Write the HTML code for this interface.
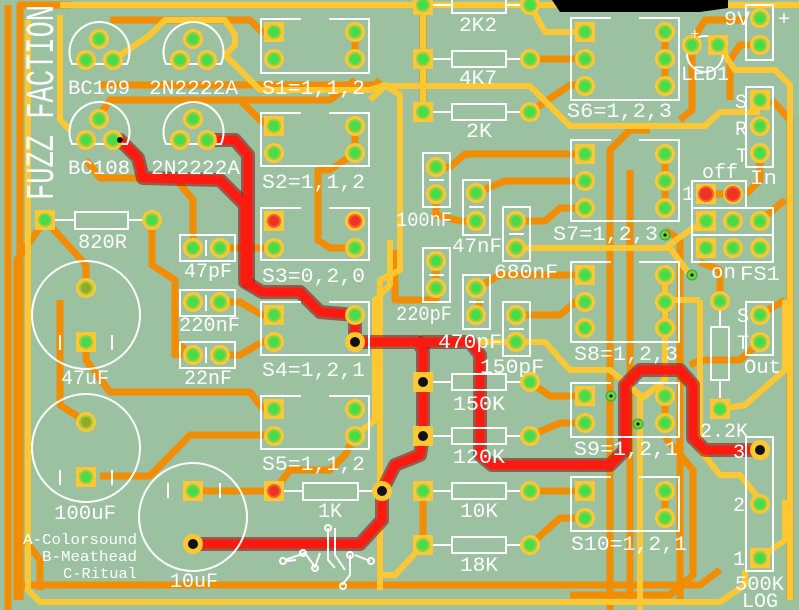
<!DOCTYPE html>
<html><head><meta charset="utf-8"><style>
html,body{margin:0;padding:0;background:#9bc1a0;}
svg{display:block}
text{font-family:"Liberation Mono","DejaVu Sans Mono",monospace;fill:#fff;}
</style></head><body>
<svg width="799" height="610" viewBox="0 0 799 610" xmlns="http://www.w3.org/2000/svg">
<rect width="799" height="610" fill="#9bc1a0"/>
<!-- orange traces -->
<g fill="none" stroke="#f28c00" stroke-width="7" stroke-linejoin="round">
<path d="M8,610 V5"/>
<path d="M17,600 V260 L45,220"/>
<path d="M70,5 H20 V600"/>
<path d="M20,585 H700 L720,570"/>
<path d="M110,20 H250 L262,32 H275"/>
<path d="M100,85 L375,85 L380,80"/>
<path d="M100,115 L110,100 H240 L262,122 H275"/>
<path d="M240,100 L262,100 L330,100 L355,80"/>
<path d="M86,160 L100,178 H175 L193,200 V248"/>
<path d="M45,220 L86,265 V290"/>
<path d="M152,220 V265 L175,280 V340 L190,355"/>
<path d="M86,342 V360 L110,392 H250 L262,408 H275"/>
<path d="M86,422 L60,405 V300"/>
<path d="M193,491 H274 L290,470 H330 L345,455 L355,436"/>
<path d="M100,476 H150 L190,435 H275"/>
<path d="M220,248 H275"/>
<path d="M220,302 H240 L262,315 H275"/>
<path d="M220,355 H240 L262,342 H275"/>
<path d="M193,355 H175 V340"/>
<path d="M355,153 L330,170 H318 V240 L330,248 H355"/>
<path d="M355,59 V32"/><path d="M355,153 V126"/>
<path d="M530,59 H585"/>
<path d="M530,112 L570,85 H585"/>
<path d="M423,112 V5"/>
<path d="M585,154 H465 L450,167 H436"/>
<path d="M476,193 L505,181 H585"/>
<path d="M516,221 H545 L560,208 H585"/>
<path d="M436,194 V215 L460,221 H476"/>
<path d="M436,261 V300 L395,300 V250"/>
<path d="M436,288 V300"/>
<path d="M476,288 L500,275 H585"/>
<path d="M476,315 L480,300"/>
<path d="M516,315 H560 L575,302 H585"/>
<path d="M530,382 L550,396 H585"/>
<path d="M530,436 L560,423 H585"/>
<path d="M530,491 H585"/>
<path d="M530,545 L560,518 H585"/>
<path d="M423,491 V545"/>
<path d="M665,32 V86"/><path d="M665,154 V208"/><path d="M665,275 V330"/><path d="M665,396 V423"/><path d="M665,491 V518"/>
<path d="M610,610 V150 L630,130 H650"/>
<path d="M630,600 V170"/>
<path d="M665,230 L680,240 V600"/>
<path d="M690,45 L705,20 H745"/>
<path d="M692,45 V110 L680,120"/>
<path d="M760,45 H740 L730,60 V100"/>
<path d="M772,100 L790,120 V600"/>
<path d="M733,194 H706"/>
<path d="M760,221 L785,200"/>
<path d="M760,153 V180 L746,194"/>
<path d="M760,342 L740,360 H700 L690,365"/>
<path d="M760,315 L785,300"/>
<path d="M665,437 L693,470 V575 L670,595 H570"/>
<path d="M720,301 V270 L700,262"/>
<path d="M25,540 L40,560 V590"/>
</g>
<!-- yellow traces -->
<g fill="none" stroke="#ffc832" stroke-width="6" stroke-linejoin="round">
<path d="M60,5 H799"/>
<path d="M28,20 V590 L40,602 H720 L745,585 V570"/>
<path d="M60,15 V120 L70,130"/>
<path d="M113,60 L150,35 L165,20 H225 L235,35 V45 L225,55 L260,90 H370 L385,85 L400,95 V270 L380,280 V590"/>
<path d="M370,100 L385,86 H530 L570,126 H705 L720,112 H760"/>
<path d="M423,5 V112"/>
<path d="M530,5 L545,32 H585"/>
<path d="M718,45 L735,70 H775 L790,85 V600"/>
<path d="M516,248 H670 L690,275"/>
<path d="M665,248 L690,230 L705,221"/>
<path d="M476,342 H545 L570,370 H610 L640,395 V460 L640,610"/>
<path d="M423,545 L395,575 H380"/>
<path d="M720,409 L745,405 L785,370 V300"/>
<path d="M700,300 V450 L720,475 H740 L760,500"/>
<path d="M760,558 L785,540 V500"/>
<path d="M665,275 V380 L640,400"/>
<path d="M660,300 L700,300"/>
<path d="M355,436 L375,420 V300 L390,285 V240"/>
</g>
<!-- red trace -->
<g fill="none" stroke-linejoin="round" stroke-linecap="round">
<path id="r1" d="M120,140 L138,158 L143,178 L220,180 L245,205 V282 L262,292 H300 L320,312 L355,315 V342 H418 L423,350 V436 L420,455 L395,465 L382,491 V520 L360,544 H193"/>
<path id="r2" d="M215,140 H235 L248,155 V282"/>
<path id="r3" d="M423,342 H470 L480,355 V455 L492,465 H610 L625,450 V385 L640,370 H680 L693,385 V438 L705,450 H760"/>
<use href="#r1" stroke="#8b1a1a" stroke-width="14" opacity="0.6"/>
<use href="#r2" stroke="#8b1a1a" stroke-width="14" opacity="0.6"/>
<use href="#r3" stroke="#8b1a1a" stroke-width="14" opacity="0.6"/>
<use href="#r1" stroke="#ff1a10" stroke-width="9"/>
<use href="#r2" stroke="#ff1a10" stroke-width="9"/>
<use href="#r3" stroke="#ff1a10" stroke-width="9"/>
</g>
<!-- silkscreen -->
<g fill="none" stroke="#fff" stroke-width="2">
<path d="M301,19 H261 V73 H369 V19 H329"/>
<path d="M301,113 H261 V166 H369 V113 H329"/>
<path d="M301,208 H261 V260 H369 V208 H329"/>
<path d="M301,302 H261 V355 H369 V302 H329"/>
<path d="M301,396 H261 V449 H369 V396 H329"/>
<path d="M611,18 H571 V100 H679 V18 H639"/>
<path d="M611,140 H571 V221 H679 V140 H639"/>
<path d="M611,262 H571 V342 H679 V262 H639"/>
<path d="M611,383 H571 V437 H679 V383 H639"/>
<path d="M611,477 H571 V531 H679 V477 H639"/>
<path d="M72,64 A30,30 0 1 1 127,64 Z"/>
<path d="M166,64 A30,30 0 1 1 221,64 Z"/>
<path d="M72,144 A30,30 0 1 1 127,144 Z"/>
<path d="M166,144 A30,30 0 1 1 221,144 Z"/>
<rect x="75" y="212" width="53" height="17"/><path d="M55,220 H75 M128,220 H145"/>
<rect x="303" y="483" width="55" height="17"/><path d="M284,491 H303 M358,491 H375"/>
<rect x="452" y="-3" width="54" height="16"/><path d="M433,5 H452 M506,5 H520"/>
<rect x="452" y="51" width="54" height="16"/><path d="M433,59 H452 M506,59 H520"/>
<rect x="452" y="104" width="54" height="16"/><path d="M433,112 H452 M506,112 H520"/>
<rect x="452" y="374" width="54" height="16"/><path d="M433,382 H452 M506,382 H520"/>
<rect x="452" y="428" width="54" height="16"/><path d="M433,436 H452 M506,436 H520"/>
<rect x="452" y="483" width="54" height="16"/><path d="M433,491 H452 M506,491 H520"/>
<rect x="452" y="537" width="54" height="16"/><path d="M433,545 H452 M506,545 H520"/>
<rect x="711" y="327" width="18" height="53"/><path d="M720,310 V327 M720,380 V398"/>
<rect x="180" y="235" width="55" height="26"/><path d="M206,240 V256"/>
<rect x="180" y="290" width="55" height="26"/><path d="M206,295 V311"/>
<rect x="180" y="342" width="55" height="26"/><path d="M206,347 V363"/>
<rect x="423" y="153" width="27" height="54"/><path d="M429,180 H444"/>
<rect x="463" y="180" width="27" height="55"/><path d="M469,207 H484"/>
<rect x="503" y="207" width="27" height="54"/><path d="M509,234 H524"/>
<rect x="423" y="248" width="27" height="54"/><path d="M429,275 H444"/>
<rect x="463" y="275" width="27" height="54"/><path d="M469,302 H484"/>
<rect x="503" y="302" width="27" height="54"/><path d="M509,329 H524"/>
<circle cx="86" cy="315" r="54"/><path d="M60,335 V350 M112,335 V350"/>
<circle cx="86" cy="448" r="54"/><path d="M60,470 V485 M112,470 V485"/>
<circle cx="193" cy="517" r="54"/><path d="M168,483 V498 M220,483 V498"/>
<circle cx="705" cy="54" r="18"/>
<rect x="746" y="5" width="27" height="55"/>
<rect x="746" y="87" width="27" height="80"/>
<rect x="692" y="181" width="54" height="27"/>
<rect x="692" y="208" width="81" height="27"/>
<rect x="692" y="235" width="81" height="27"/>
<rect x="746" y="302" width="27" height="53"/>
<rect x="746" y="437" width="27" height="134"/>
<path d="M328,528 V560 L335,568 M335,528 V555 L345,570 M350,555 V575 L342,585 M285,560 L305,553 L315,567 L320,553 M355,555 L370,561 M296,560 L287,561"/>
<circle cx="328" cy="528" r="3"/><circle cx="343" cy="586" r="3"/><circle cx="303" cy="553" r="3"/><circle cx="315" cy="568" r="3"/><circle cx="350" cy="555" r="3"/><circle cx="371" cy="561" r="3"/><circle cx="283" cy="561" r="3"/>
</g>
<path d="M552,0 H728 V8 L700,12 H560 Z" fill="#000"/>
<g>
<g fill="#ffc832">
<rect x="264" y="22" width="20" height="20"/><rect x="264" y="116" width="20" height="20"/><rect x="264" y="211" width="20" height="20"/><rect x="264" y="305" width="20" height="20"/><rect x="264" y="399" width="20" height="20"/>
<rect x="575" y="22" width="20" height="20"/><rect x="575" y="144" width="20" height="20"/><rect x="575" y="265" width="20" height="20"/><rect x="575" y="386" width="20" height="20"/><rect x="575" y="481" width="20" height="20"/>
<rect x="35" y="210" width="20" height="20"/><rect x="264" y="481" width="20" height="20"/>
<rect x="76" y="332" width="20" height="20"/><rect x="76" y="467" width="20" height="20"/><rect x="183" y="481" width="20" height="20"/>
<rect x="413" y="-5" width="20" height="20"/><rect x="413" y="49" width="20" height="20"/><rect x="413" y="102" width="20" height="20"/>
<rect x="413" y="372" width="20" height="20"/><rect x="413" y="426" width="20" height="20"/><rect x="413" y="481" width="20" height="20"/><rect x="413" y="535" width="20" height="20"/>
<rect x="708" y="35" width="20" height="20"/><rect x="696" y="184" width="20" height="20"/><rect x="696" y="211" width="20" height="20"/><rect x="696" y="238" width="20" height="20"/><rect x="750" y="90" width="20" height="20"/><rect x="710" y="399" width="20" height="20"/><rect x="750" y="548" width="20" height="20"/>
</g>
<g fill="#ffc832">
<circle cx="355" cy="32" r="10"/><circle cx="274" cy="59" r="10"/><circle cx="355" cy="59" r="10"/>
<circle cx="355" cy="126" r="10"/><circle cx="274" cy="153" r="10"/><circle cx="355" cy="153" r="10"/>
<circle cx="355" cy="221" r="10"/><circle cx="274" cy="248" r="10"/><circle cx="355" cy="248" r="10"/>
<circle cx="355" cy="315" r="10"/><circle cx="274" cy="342" r="10"/><circle cx="355" cy="342" r="10"/>
<circle cx="355" cy="409" r="10"/><circle cx="274" cy="436" r="10"/><circle cx="355" cy="436" r="10"/>
<circle cx="665" cy="32" r="10"/><circle cx="585" cy="59" r="10"/><circle cx="665" cy="59" r="10"/><circle cx="585" cy="86" r="10"/><circle cx="665" cy="86" r="10"/>
<circle cx="665" cy="154" r="10"/><circle cx="585" cy="181" r="10"/><circle cx="665" cy="181" r="10"/><circle cx="585" cy="208" r="10"/><circle cx="665" cy="208" r="10"/>
<circle cx="665" cy="275" r="10"/><circle cx="585" cy="302" r="10"/><circle cx="665" cy="302" r="10"/><circle cx="585" cy="328" r="10"/><circle cx="665" cy="328" r="10"/>
<circle cx="665" cy="396" r="10"/><circle cx="585" cy="423" r="10"/><circle cx="665" cy="423" r="10"/>
<circle cx="665" cy="491" r="10"/><circle cx="585" cy="518" r="10"/><circle cx="665" cy="518" r="10"/>
<circle cx="99" cy="39" r="10"/><circle cx="86" cy="60" r="10"/><circle cx="113" cy="60" r="10"/>
<circle cx="193" cy="39" r="10"/><circle cx="180" cy="60" r="10"/><circle cx="207" cy="60" r="10"/>
<circle cx="99" cy="119" r="10"/><circle cx="86" cy="140" r="10"/><circle cx="113" cy="140" r="10"/>
<circle cx="193" cy="119" r="10"/><circle cx="180" cy="140" r="10"/><circle cx="207" cy="140" r="10"/>
<circle cx="152" cy="220" r="10"/><circle cx="382" cy="491" r="10"/>
<circle cx="193" cy="248" r="10"/><circle cx="220" cy="248" r="10"/><circle cx="193" cy="302" r="10"/><circle cx="220" cy="302" r="10"/><circle cx="193" cy="355" r="10"/><circle cx="220" cy="355" r="10"/>
<circle cx="86" cy="288" r="10"/><circle cx="86" cy="422" r="10"/><circle cx="193" cy="544" r="10"/>
<circle cx="530" cy="5" r="10"/><circle cx="530" cy="59" r="10"/><circle cx="530" cy="112" r="10"/><circle cx="530" cy="382" r="10"/><circle cx="530" cy="436" r="10"/><circle cx="530" cy="491" r="10"/><circle cx="530" cy="545" r="10"/>
<circle cx="436" cy="167" r="10"/><circle cx="436" cy="194" r="10"/><circle cx="476" cy="193" r="10"/><circle cx="476" cy="221" r="10"/><circle cx="516" cy="221" r="10"/><circle cx="516" cy="248" r="10"/>
<circle cx="436" cy="261" r="10"/><circle cx="436" cy="288" r="10"/><circle cx="476" cy="288" r="10"/><circle cx="476" cy="315" r="10"/><circle cx="516" cy="315" r="10"/><circle cx="516" cy="342" r="10"/>
<circle cx="692" cy="45" r="10"/><circle cx="760" cy="18" r="10"/><circle cx="760" cy="45" r="10"/><circle cx="760" cy="126" r="10"/><circle cx="760" cy="153" r="10"/>
<circle cx="733" cy="194" r="10"/><circle cx="733" cy="221" r="10"/><circle cx="760" cy="221" r="10"/><circle cx="733" cy="248" r="10"/><circle cx="760" cy="248" r="10"/>
<circle cx="760" cy="315" r="10"/><circle cx="760" cy="342" r="10"/><circle cx="720" cy="301" r="10"/><circle cx="760" cy="450" r="10"/><circle cx="760" cy="504" r="10"/>
</g>
<g fill="#46dd46" stroke="#8fd04a" stroke-width="2">
<circle cx="274" cy="32" r="6"/><circle cx="355" cy="32" r="6"/><circle cx="274" cy="59" r="6"/><circle cx="355" cy="59" r="6"/>
<circle cx="274" cy="126" r="6"/><circle cx="355" cy="126" r="6"/><circle cx="274" cy="153" r="6"/><circle cx="355" cy="153" r="6"/>
<circle cx="274" cy="248" r="6"/><circle cx="355" cy="248" r="6"/>
<circle cx="274" cy="315" r="6"/><circle cx="355" cy="315" r="6"/><circle cx="274" cy="342" r="6"/>
<circle cx="274" cy="409" r="6"/><circle cx="355" cy="409" r="6"/><circle cx="274" cy="436" r="6"/><circle cx="355" cy="436" r="6"/>
<circle cx="585" cy="32" r="6"/><circle cx="665" cy="32" r="6"/><circle cx="585" cy="59" r="6"/><circle cx="665" cy="59" r="6"/><circle cx="585" cy="86" r="6"/><circle cx="665" cy="86" r="6"/>
<circle cx="585" cy="154" r="6"/><circle cx="665" cy="154" r="6"/><circle cx="585" cy="181" r="6"/><circle cx="665" cy="181" r="6"/><circle cx="585" cy="208" r="6"/><circle cx="665" cy="208" r="6"/>
<circle cx="585" cy="275" r="6"/><circle cx="665" cy="275" r="6"/><circle cx="585" cy="302" r="6"/><circle cx="665" cy="302" r="6"/><circle cx="585" cy="328" r="6"/><circle cx="665" cy="328" r="6"/>
<circle cx="585" cy="396" r="6"/><circle cx="665" cy="396" r="6"/><circle cx="585" cy="423" r="6"/><circle cx="665" cy="423" r="6"/>
<circle cx="585" cy="491" r="6"/><circle cx="665" cy="491" r="6"/><circle cx="585" cy="518" r="6"/><circle cx="665" cy="518" r="6"/>
<circle cx="99" cy="39" r="6"/><circle cx="86" cy="60" r="6"/><circle cx="113" cy="60" r="6"/>
<circle cx="193" cy="39" r="6"/><circle cx="180" cy="60" r="6"/><circle cx="207" cy="60" r="6"/>
<circle cx="99" cy="119" r="6"/><circle cx="86" cy="140" r="6"/><circle cx="113" cy="140" r="6"/>
<circle cx="193" cy="119" r="6"/><circle cx="180" cy="140" r="6"/><circle cx="207" cy="140" r="6"/>
<circle cx="45" cy="220" r="6"/><circle cx="152" cy="220" r="6"/>
<circle cx="193" cy="248" r="6"/><circle cx="220" cy="248" r="6"/><circle cx="193" cy="302" r="6"/><circle cx="220" cy="302" r="6"/><circle cx="193" cy="355" r="6"/><circle cx="220" cy="355" r="6"/>
<circle cx="86" cy="342" r="6"/><circle cx="86" cy="477" r="6"/><circle cx="193" cy="491" r="6"/>
<circle cx="423" cy="5" r="6"/><circle cx="530" cy="5" r="6"/><circle cx="423" cy="59" r="6"/><circle cx="530" cy="59" r="6"/><circle cx="423" cy="112" r="6"/><circle cx="530" cy="112" r="6"/>
<circle cx="530" cy="382" r="6"/><circle cx="530" cy="436" r="6"/><circle cx="423" cy="491" r="6"/><circle cx="530" cy="491" r="6"/><circle cx="423" cy="545" r="6"/><circle cx="530" cy="545" r="6"/>
<circle cx="436" cy="167" r="6"/><circle cx="436" cy="194" r="6"/><circle cx="476" cy="193" r="6"/><circle cx="476" cy="221" r="6"/><circle cx="516" cy="221" r="6"/><circle cx="516" cy="248" r="6"/>
<circle cx="436" cy="261" r="6"/><circle cx="436" cy="288" r="6"/><circle cx="476" cy="288" r="6"/><circle cx="476" cy="315" r="6"/><circle cx="516" cy="315" r="6"/><circle cx="516" cy="342" r="6"/>
<circle cx="692" cy="45" r="6"/><circle cx="718" cy="45" r="6"/><circle cx="760" cy="18" r="6"/><circle cx="760" cy="45" r="6"/><circle cx="760" cy="100" r="6"/><circle cx="760" cy="126" r="6"/><circle cx="760" cy="153" r="6"/>
<circle cx="706" cy="221" r="6"/><circle cx="733" cy="221" r="6"/><circle cx="760" cy="221" r="6"/><circle cx="706" cy="248" r="6"/><circle cx="733" cy="248" r="6"/><circle cx="760" cy="248" r="6"/>
<circle cx="760" cy="315" r="6"/><circle cx="760" cy="342" r="6"/><circle cx="720" cy="301" r="6"/><circle cx="720" cy="409" r="6"/><circle cx="760" cy="504" r="6"/><circle cx="760" cy="558" r="6"/>
</g>
<g fill="#9aa820" stroke="#8fd04a" stroke-width="2">
<circle cx="86" cy="288" r="6"/><circle cx="86" cy="422" r="6"/>
</g>
<g fill="#ee3322" stroke="#f06030" stroke-width="2">
<circle cx="274" cy="221" r="6"/><circle cx="355" cy="221" r="6"/><circle cx="706" cy="194" r="7"/><circle cx="733" cy="194" r="7"/><circle cx="274" cy="491" r="6"/>
</g>
<g fill="#111">
<circle cx="355" cy="342" r="5"/><circle cx="423" cy="382" r="5"/><circle cx="423" cy="436" r="5"/><circle cx="382" cy="491" r="5"/><circle cx="193" cy="544" r="5"/><circle cx="760" cy="450" r="5"/><circle cx="120" cy="140" r="3"/>
</g>
<g fill="#6fd040" stroke="#3a3" stroke-width="1"><circle cx="665" cy="235" r="5"/><circle cx="692" cy="275" r="5"/><circle cx="611" cy="396" r="5"/><circle cx="638" cy="424" r="5"/></g>
<g fill="#000"><circle cx="665" cy="235" r="1.5"/><circle cx="692" cy="275" r="1.5"/><circle cx="611" cy="396" r="1.5"/><circle cx="638" cy="424" r="1.5"/></g>
</g>
<g font-size="20">
<text x="262" y="94" textLength="103" lengthAdjust="spacingAndGlyphs">S1=1,1,2</text>
<text x="262" y="188" textLength="103" lengthAdjust="spacingAndGlyphs">S2=1,1,2</text>
<text x="262" y="282" textLength="103" lengthAdjust="spacingAndGlyphs">S3=0,2,0</text>
<text x="262" y="376" textLength="103" lengthAdjust="spacingAndGlyphs">S4=1,2,1</text>
<text x="262" y="470" textLength="103" lengthAdjust="spacingAndGlyphs">S5=1,1,2</text>
<text x="567" y="117" textLength="105" lengthAdjust="spacingAndGlyphs">S6=1,2,3</text>
<text x="553" y="240" textLength="105" lengthAdjust="spacingAndGlyphs">S7=1,2,3</text>
<text x="574" y="360" textLength="104" lengthAdjust="spacingAndGlyphs">S8=1,2,3</text>
<text x="574" y="455" textLength="104" lengthAdjust="spacingAndGlyphs">S9=1,2,1</text>
<text x="571" y="550" textLength="116" lengthAdjust="spacingAndGlyphs">S10=1,2,1</text>
<text x="68" y="94" textLength="62" lengthAdjust="spacingAndGlyphs">BC109</text>
<text x="149" y="94" textLength="89" lengthAdjust="spacingAndGlyphs">2N2222A</text>
<text x="68" y="174" textLength="62" lengthAdjust="spacingAndGlyphs">BC108</text>
<text x="151" y="174" textLength="89" lengthAdjust="spacingAndGlyphs">2N2222A</text>
<text x="78" y="248" textLength="49" lengthAdjust="spacingAndGlyphs">820R</text>
<text x="184" y="277" textLength="48" lengthAdjust="spacingAndGlyphs">47pF</text>
<text x="179" y="331" textLength="61" lengthAdjust="spacingAndGlyphs">220nF</text>
<text x="184" y="384" textLength="48" lengthAdjust="spacingAndGlyphs">22nF</text>
<text x="61" y="384" textLength="48" lengthAdjust="spacingAndGlyphs">47uF</text>
<text x="54" y="519" textLength="62" lengthAdjust="spacingAndGlyphs">100uF</text>
<text x="170" y="587" textLength="48" lengthAdjust="spacingAndGlyphs">10uF</text>
<text x="318" y="517" textLength="24" lengthAdjust="spacingAndGlyphs">1K</text>
<text x="459" y="31" textLength="38" lengthAdjust="spacingAndGlyphs">2K2</text>
<text x="459" y="84" textLength="38" lengthAdjust="spacingAndGlyphs">4K7</text>
<text x="466" y="137" textLength="26" lengthAdjust="spacingAndGlyphs">2K</text>
<text x="453" y="410" textLength="52" lengthAdjust="spacingAndGlyphs">150K</text>
<text x="453" y="463" textLength="52" lengthAdjust="spacingAndGlyphs">120K</text>
<text x="460" y="517" textLength="38" lengthAdjust="spacingAndGlyphs">10K</text>
<text x="460" y="571" textLength="38" lengthAdjust="spacingAndGlyphs">18K</text>
<text x="396" y="226" textLength="56" lengthAdjust="spacingAndGlyphs">100nF</text>
<text x="452" y="252" textLength="50" lengthAdjust="spacingAndGlyphs">47nF</text>
<text x="494" y="278" textLength="64" lengthAdjust="spacingAndGlyphs">680nF</text>
<text x="396" y="320" textLength="56" lengthAdjust="spacingAndGlyphs">220pF</text>
<text x="438" y="348" textLength="64" lengthAdjust="spacingAndGlyphs">470pF</text>
<text x="480" y="373" textLength="64" lengthAdjust="spacingAndGlyphs">150pF</text>
<text x="681" y="80" textLength="48" lengthAdjust="spacingAndGlyphs">LED1</text>
<text x="724" y="25" textLength="26" lengthAdjust="spacingAndGlyphs">9V</text>
<text x="778" y="25">+</text>
<text x="690" y="39" font-size="16">+</text>
<text x="735" y="108">S</text><text x="735" y="135">R</text><text x="736" y="162">T</text>
<text x="750" y="184" textLength="27" lengthAdjust="spacingAndGlyphs">In</text>
<text x="702" y="178" textLength="36" lengthAdjust="spacingAndGlyphs">off</text>
<text x="682" y="200">1</text>
<text x="711" y="278" textLength="25" lengthAdjust="spacingAndGlyphs">on</text>
<text x="740" y="280" textLength="40" lengthAdjust="spacingAndGlyphs">FS1</text>
<text x="737" y="322">S</text><text x="737" y="349">T</text>
<text x="744" y="373" textLength="37" lengthAdjust="spacingAndGlyphs">Out</text>
<text x="700" y="437" textLength="48" lengthAdjust="spacingAndGlyphs">2.2K</text>
<text x="733" y="458">3</text><text x="733" y="511">2</text><text x="733" y="565">1</text>
<text x="735" y="590" textLength="49" lengthAdjust="spacingAndGlyphs">500K</text>
<text x="742" y="607" textLength="36" lengthAdjust="spacingAndGlyphs">LOG</text>
</g>
<g font-size="15">
<text x="23" y="544" textLength="114" lengthAdjust="spacingAndGlyphs">A-Colorsound</text>
<text x="42" y="561" textLength="95" lengthAdjust="spacingAndGlyphs">B-Meathead</text>
<text x="63" y="578" textLength="74" lengthAdjust="spacingAndGlyphs">C-Ritual</text>
</g>
<text transform="translate(53,200) rotate(-90)" font-size="40" textLength="195" lengthAdjust="spacingAndGlyphs">FUZZ FACTION</text>
</svg>
</body></html>
